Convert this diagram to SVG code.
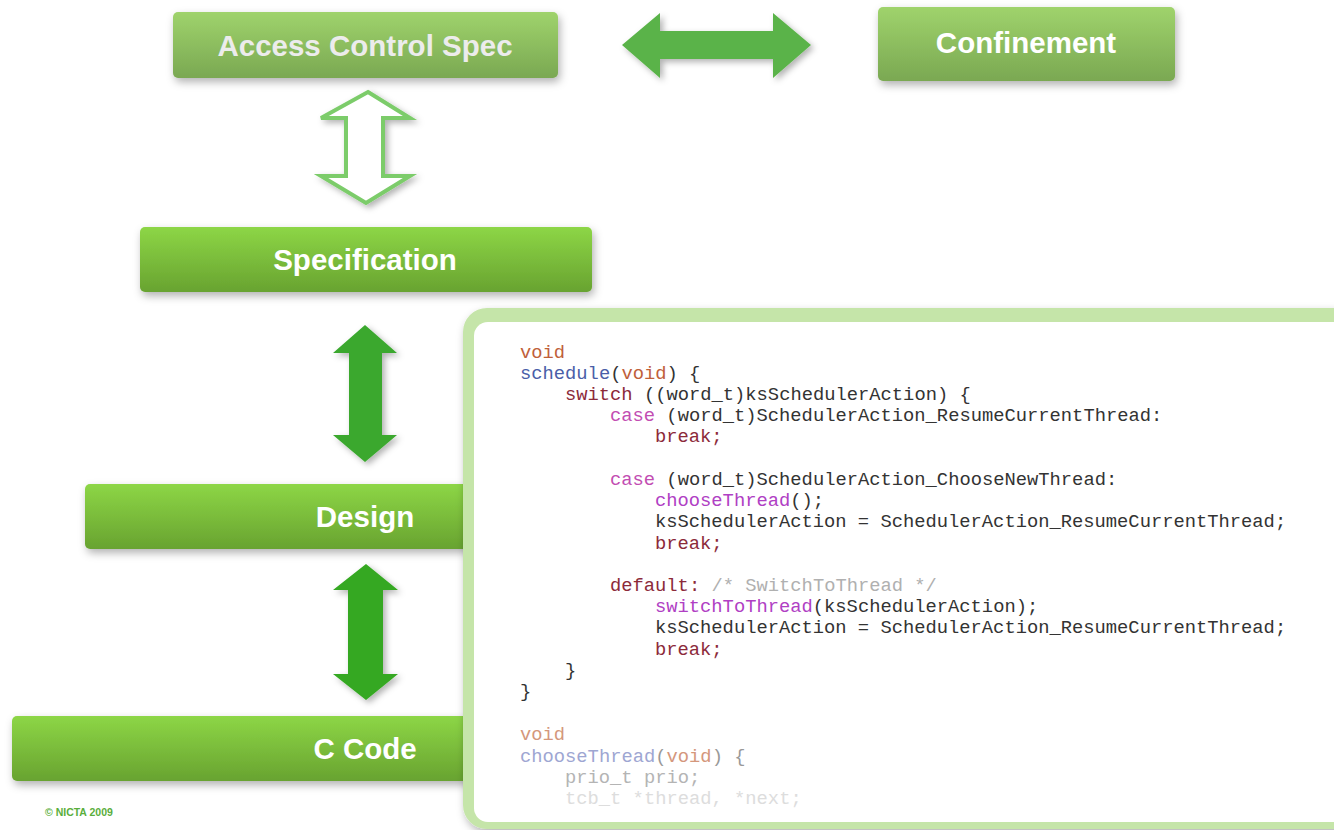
<svg xmlns="http://www.w3.org/2000/svg" width="1334" height="830" viewBox="0 0 1334 830">
<defs>
<linearGradient id="gFade" x1="0" y1="0" x2="0" y2="1"><stop offset="0" stop-color="#9fd36c"/><stop offset="1" stop-color="#7aa852"/></linearGradient>
<linearGradient id="gBright" x1="0" y1="0" x2="0" y2="1"><stop offset="0" stop-color="#8dd646"/><stop offset="1" stop-color="#68a330"/></linearGradient>
<filter id="sh" x="-10%" y="-30%" width="120%" height="170%"><feDropShadow dx="2" dy="4" stdDeviation="4" flood-color="#000" flood-opacity="0.3"/></filter>
<filter id="ash" x="-30%" y="-20%" width="160%" height="140%"><feDropShadow dx="3" dy="3" stdDeviation="3" flood-color="#000" flood-opacity="0.3"/></filter>
<style>
.lbl{font-family:"Liberation Sans",Arial,sans-serif;font-weight:bold;font-size:29.5px;text-anchor:middle}
.fade{fill:#ececec}
.bright{fill:#ffffff}
.code{font-family:"Liberation Mono","Courier New",monospace;font-size:18.8px;fill:#333}
.kw{fill:#8c2a3a}
.ty{fill:#c0603a}
.fn{fill:#4a5ea8}
.cs{fill:#c24db2}
.cl{fill:#b040c4}
.cm{fill:#b0b0b0}
</style>
</defs>
<rect width="1334" height="830" fill="#ffffff"/>
<g id="connectors">
<polygon points="622,45 660,13 660,31 773,31 773,13 811,45 773,78 773,59 660,59 660,78" fill="#5ab348" filter="url(#ash)"/>
<polygon points="368,92 410,118 383,118 383,176 410,176 366,203 321,176 346,176 346,118 321,118" fill="#ffffff" stroke="#7ccc6a" stroke-width="4" stroke-linejoin="miter" filter="url(#ash)"/>
<polygon points="365,325 397,353 382,353 382,435 397,435 365,462 333,435 349,435 349,353 333,353" fill="#3aa82e" filter="url(#ash)"/>
<polygon points="366,564 398,590 383,590 383,674 398,674 366,700 333,674 348,674 348,590 333,590" fill="#34a820" filter="url(#ash)"/>
</g>
<g id="node-access">
<rect x="173" y="12" width="385" height="66" rx="5" fill="url(#gFade)" filter="url(#sh)"/>
<text class="lbl fade" x="365" y="56">Access Control Spec</text>
</g>
<g id="node-confinement">
<rect x="878" y="7" width="297" height="74" rx="5" fill="url(#gFade)" filter="url(#sh)"/>
<text class="lbl bright" x="1026" y="53">Confinement</text>
</g>
<g id="node-specification">
<rect x="140" y="227" width="452" height="65" rx="5" fill="url(#gBright)" filter="url(#sh)"/>
<text class="lbl bright" x="365" y="270">Specification</text>
</g>
<g id="node-design">
<rect x="85" y="484" width="420" height="65" rx="5" fill="url(#gBright)" filter="url(#sh)"/>
<text class="lbl bright" x="365" y="527">Design</text>
</g>
<g id="node-ccode">
<rect x="12" y="716" width="493" height="65" rx="5" fill="url(#gBright)" filter="url(#sh)"/>
<text class="lbl bright" x="365" y="759">C Code</text>
</g>
<g id="code-panel">
<rect x="463" y="308" width="900" height="521" rx="24" fill="#c5e5a9" filter="url(#sh)"/>
<rect x="474" y="322" width="880" height="500" rx="14" fill="#ffffff"/>
<text class="code" xml:space="preserve">
<tspan x="520" y="358" class="ty">void</tspan>
<tspan x="520" y="379"><tspan class="fn">schedule</tspan>(<tspan class="ty">void</tspan>) {</tspan>
<tspan x="565" y="400"><tspan class="kw">switch</tspan> ((word_t)ksSchedulerAction) {</tspan>
<tspan x="610" y="421"><tspan class="cs">case</tspan> (word_t)SchedulerAction_ResumeCurrentThread:</tspan>
<tspan x="655" y="442" class="kw">break;</tspan>
<tspan x="610" y="485"><tspan class="cs">case</tspan> (word_t)SchedulerAction_ChooseNewThread:</tspan>
<tspan x="655" y="506"><tspan class="cl">chooseThread</tspan>();</tspan>
<tspan x="655" y="527">ksSchedulerAction = SchedulerAction_ResumeCurrentThread;</tspan>
<tspan x="655" y="549" class="kw">break;</tspan>
<tspan x="610" y="591"><tspan class="kw">default:</tspan> <tspan class="cm">/* SwitchToThread */</tspan></tspan>
<tspan x="655" y="612"><tspan class="cl">switchToThread</tspan>(ksSchedulerAction);</tspan>
<tspan x="655" y="633">ksSchedulerAction = SchedulerAction_ResumeCurrentThread;</tspan>
<tspan x="655" y="655" class="kw">break;</tspan>
<tspan x="565" y="676">}</tspan>
<tspan x="520" y="697">}</tspan>
<tspan x="520" y="740" fill="#d4977c">void</tspan>
<tspan x="520" y="762"><tspan fill="#9ea6d2">chooseThread</tspan><tspan fill="#999">(</tspan><tspan fill="#d4977c">void</tspan><tspan fill="#999">) {</tspan></tspan>
<tspan x="565" y="783" fill="#b4b4b4">prio_t prio;</tspan>
<tspan x="565" y="804" fill="#dddddd">tcb_t *thread, *next;</tspan>
</text>
</g>
<text x="45" y="816" font-family="Liberation Sans,Arial,sans-serif" font-size="10.5" font-weight="bold" fill="#5aae3c">© NICTA 2009</text>
</svg>
